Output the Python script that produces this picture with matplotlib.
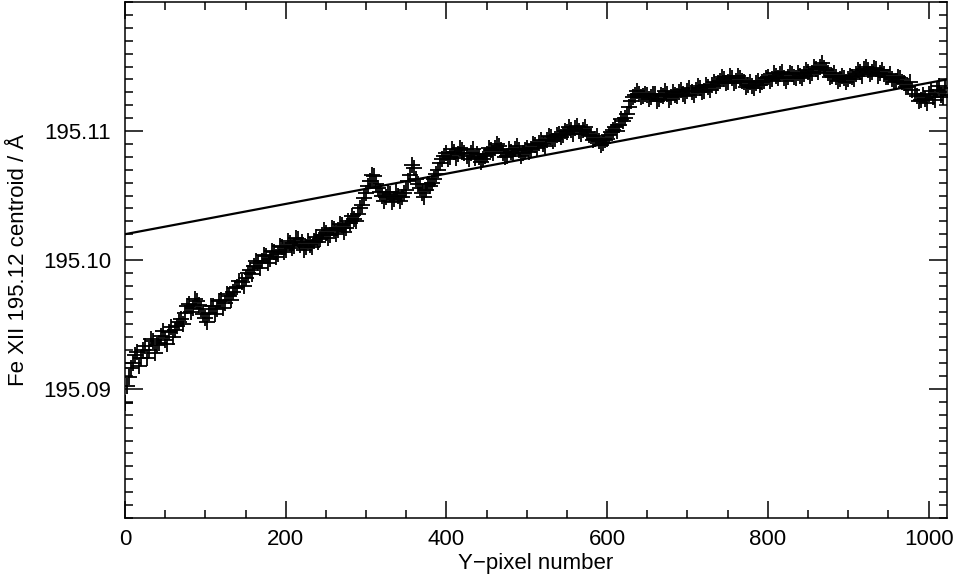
import matplotlib.pyplot as plt
import numpy as np
from matplotlib.ticker import MultipleLocator, FixedLocator

# Y-pixel positions (every 5 pixels)
ypix = np.arange(0, 1021, 5)
# in-between samples
ypix_mid = np.arange(2.5, 1020, 5)

# Fe XII 195.12 centroid, in mA above 195.000 A
centroid_mA = [
    88.9, 90.9, 92.0, 92.9, 92.4, 93.3, 93.0, 93.7, 93.4, 94.1,
    93.8, 94.4, 94.0, 94.9, 95.4, 95.9, 96.6, 96.3, 96.8, 96.2,
    95.5, 95.9, 96.4, 96.2, 96.9, 96.7, 97.2, 97.5, 97.9, 98.3,
    98.6, 99.2, 99.5, 99.8, 99.9, 100.3, 100.1, 100.6, 100.5, 101.0,
    100.8, 101.3, 101.1, 101.6, 101.4, 101.0, 101.2, 101.5, 101.4, 101.9,
    102.1, 101.9, 102.4, 102.3, 102.7, 102.5, 102.9, 103.2, 103.6, 104.3,
    105.2, 106.1, 106.5, 105.6, 105.0, 104.9, 105.1, 104.7, 105.0, 104.9,
    105.4, 106.6, 107.1, 105.9, 105.2, 105.4, 105.7, 106.3, 107.0, 107.8,
    108.3, 108.0, 108.4, 108.2, 108.5, 108.1, 108.3, 107.9, 108.0, 107.8,
    108.2, 108.5, 108.7, 108.8, 108.3, 108.1, 108.4, 108.6, 108.5, 108.3,
    108.7, 108.6, 108.9, 109.1, 109.0, 109.3, 109.5, 109.4, 109.8, 109.7,
    109.9, 110.1, 110.2, 110.0, 110.1, 109.9, 109.6, 109.4, 109.2, 109.1,
    109.4, 109.9, 110.3, 110.5, 110.8, 111.3, 112.3, 112.8, 112.9, 112.7,
    112.8, 112.6, 112.9, 112.5, 112.7, 112.9, 112.6, 112.8, 113.0, 112.9,
    113.1, 113.0, 113.2, 113.3, 113.1, 113.4, 113.6, 113.5, 113.9, 114.0,
    113.8, 114.1, 113.9, 114.1, 113.8, 113.6, 113.5, 113.7, 113.6, 113.9,
    114.2, 114.0, 114.3, 114.4, 114.1, 114.2, 114.4, 114.1, 114.3, 114.4,
    114.6, 114.5, 114.8, 115.0, 114.9, 114.5, 114.3, 114.2, 114.0, 114.1,
    114.0, 114.2, 114.4, 114.6, 114.8, 114.7, 114.6, 114.8, 114.5, 114.4,
    114.2, 114.0, 113.9, 114.1, 113.7, 113.5, 113.2, 112.7, 112.4, 112.5,
    112.9, 112.6, 113.2, 112.8, 113.3,
]
centroid_mid_mA = [
    90.2, 91.6, 92.6, 91.8, 93.0, 92.4, 93.9, 92.8, 93.6, 94.5,
    93.5, 94.8, 94.6, 95.2, 95.0, 96.4, 96.0, 97.0, 96.5, 95.8,
    95.2, 96.4, 95.8, 96.8, 96.3, 97.4, 96.9, 97.8, 98.4, 98.0,
    99.0, 98.9, 99.9, 99.4, 100.4, 99.8, 100.7, 100.2, 101.1, 100.6,
    101.5, 100.9, 101.7, 101.2, 100.8, 101.5, 101.0, 101.8, 101.6, 102.3,
    101.7, 102.5, 102.0, 102.8, 102.2, 103.0, 103.4, 103.0, 104.0, 104.8,
    105.7, 106.6, 105.9, 105.3, 104.6, 105.3, 104.5, 105.3, 104.6, 105.2,
    106.1, 107.4, 106.3, 105.6, 104.9, 105.9, 106.0, 106.7, 107.5, 108.1,
    107.8, 108.6, 107.9, 108.7, 108.3, 107.8, 108.6, 108.2, 107.6, 108.1,
    108.7, 108.3, 109.0, 108.5, 108.0, 108.6, 108.2, 108.8, 108.1, 108.5,
    108.4, 109.0, 108.7, 109.3, 108.8, 109.6, 109.2, 109.7, 109.5, 110.0,
    110.3, 109.8, 110.4, 109.8, 110.3, 109.7, 109.3, 109.6, 108.9, 109.3,
    109.7, 110.1, 110.0, 110.9, 111.0, 111.9, 112.6, 113.1, 112.6, 112.9,
    112.5, 112.9, 112.3, 112.8, 113.1, 112.4, 113.0, 112.7, 113.2, 112.7,
    113.3, 112.8, 113.5, 113.0, 113.6, 113.2, 113.8, 113.7, 114.2, 113.7,
    114.3, 113.7, 114.3, 113.9, 113.4, 113.8, 113.3, 113.9, 113.8, 114.1,
    113.9, 114.5, 114.1, 114.6, 113.9, 114.5, 114.2, 114.5, 114.1, 114.7,
    114.3, 115.0, 114.6, 115.3, 114.7, 114.2, 114.5, 113.9, 114.3, 113.8,
    114.3, 114.0, 114.7, 114.3, 115.0, 114.4, 114.9, 114.3, 114.7, 114.2,
    114.4, 113.8, 114.2, 113.8, 113.4, 113.8, 112.9, 112.3, 112.8, 112.2,
    113.1, 112.4, 113.5, 112.6,
]

x_all = np.concatenate([ypix, ypix_mid])
centroid = 195.0 + np.concatenate([centroid_mA, centroid_mid_mA]) / 1000.0

# linear fit end points
fit_x = [0, 1023]
fit_y = [195.1020, 195.1140]

plt.rcParams['font.family'] = ['Liberation Sans', 'DejaVu Sans']
plt.rcParams['font.size'] = 16

fig = plt.figure(figsize=(9.57, 5.77), dpi=100)
ax = fig.add_axes([0.1306, 0.1023, 0.8590, 0.8942])

ax.plot(x_all, centroid, '+', color='black', markersize=12, markeredgewidth=1.3)
ax.plot(fit_x, fit_y, color='black', linewidth=1.6)

ax.set_xlim(0, 1023)
ax.set_ylim(195.0800, 195.1200)

ax.xaxis.set_major_locator(FixedLocator([0, 200, 400, 600, 800, 1000]))
ax.xaxis.set_minor_locator(MultipleLocator(50))
ax.yaxis.set_major_locator(FixedLocator([195.09, 195.10, 195.11]))
ax.yaxis.set_minor_locator(MultipleLocator(0.001))
ax.set_yticklabels(['195.09', '195.10', '195.11'])

ax.tick_params(which='both', direction='in', top=True, right=True, width=1.1)
ax.tick_params(which='major', length=12, pad=8)
ax.tick_params(axis='y', which='major', length=13, pad=10)
ax.tick_params(which='minor', length=6)
for s in ax.spines.values():
    s.set_linewidth(1.1)

ax.set_xlabel('Y\u2212pixel number', labelpad=2)
ax.set_ylabel('Fe XII 195.12 centroid / \u00c5', labelpad=10)

plt.savefig('out.png', dpi=100)
